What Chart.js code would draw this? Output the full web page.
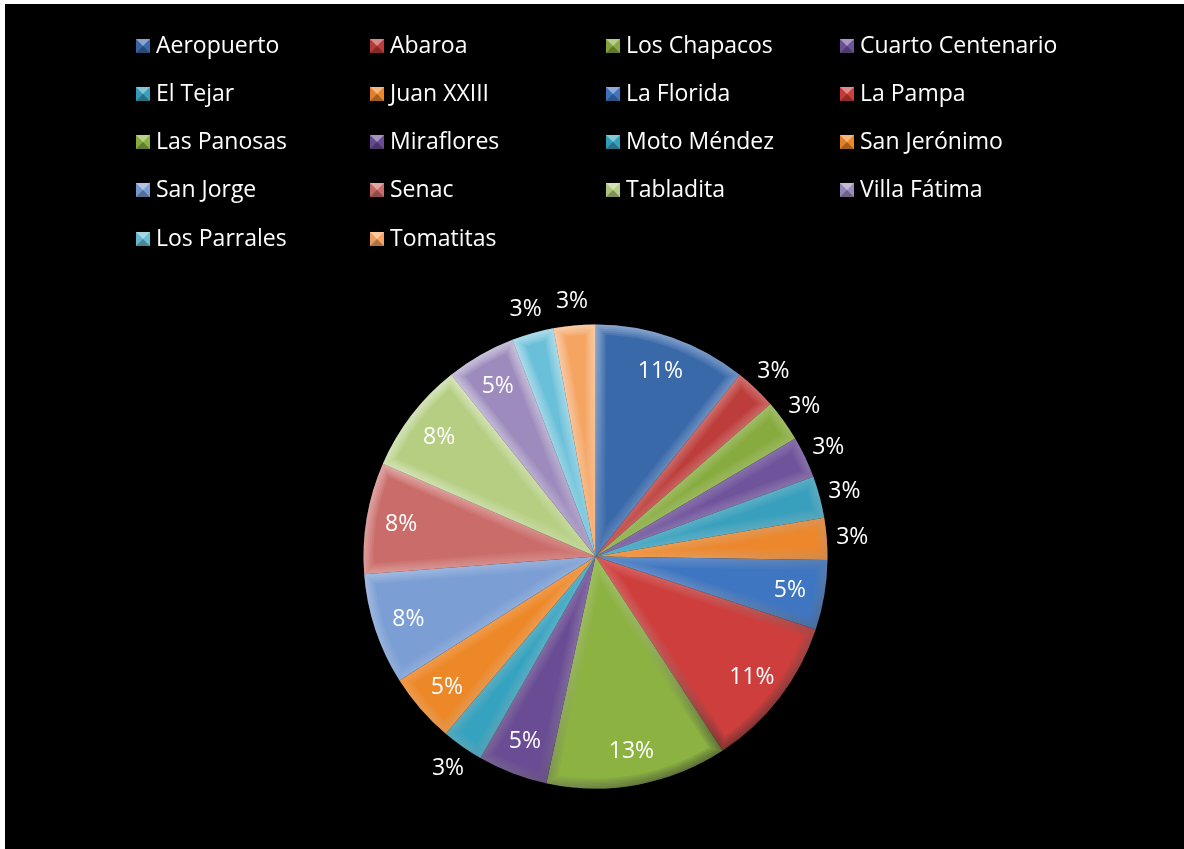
<!DOCTYPE html>
<html lang="es">
<head>
<meta charset="utf-8">
<title>Barrios</title>
<script src="https://cdn.jsdelivr.net/npm/chart.js@4/dist/chart.umd.min.js"></script>
<style>
  html, body { margin: 0; padding: 0; background: #fff; }
  #panel {
    position: absolute; left: 5px; top: 4px; width: 1179px; height: 845px;
    background: #000; overflow: hidden;
  }
  #pie { position: absolute; left: -5px; top: -4px; }
  .item {
    position: absolute; height: 31px; line-height: 31px; white-space: nowrap;
    font-family: "Open Sans", sans-serif; font-size: 23px; color: #fff;
    padding-left: 20px;
  }
  .mark {
    position: absolute; left: 0; top: 10px; width: 0; height: 0;
    border-style: solid; border-width: 7px;
  }
</style>
</head>
<body>
<div id="panel">
  <canvas id="pie" width="1184" height="849"></canvas>
  <div id="legend"></div>
</div>
<script>
// barrios y porcentaje de cada uno
const barrios = ['Aeropuerto', 'Abaroa', 'Los Chapacos', 'Cuarto Centenario',
    'El Tejar', 'Juan XXIII', 'La Florida', 'La Pampa',
    'Las Panosas', 'Miraflores', 'Moto Méndez', 'San Jerónimo',
    'San Jorge', 'Senac', 'Tabladita', 'Villa Fátima',
    'Los Parrales', 'Tomatitas'];
const porcentajes = [11, 3, 3, 3, 3, 3, 5, 11, 13, 5, 3, 5, 8, 8, 8, 5, 3, 3];
const colores = ['#3A69AA', '#BC3D3A', '#88AB40', '#70549B', '#38A0BD', '#EC872C',
    '#3F76C2', '#CE3E3C', '#8CB241', '#6A4C94', '#35A3BF', '#ED8828',
    '#7B9ED4', '#CA6C69', '#B5CE82', '#9C8BBC', '#6BC0D9', '#F5A462'];

function shade(hex, amt) {
    const n = parseInt(hex.slice(1), 16);
    let r = n >> 16, g = (n >> 8) & 255, b = n & 255;
    const t = amt > 0 ? 255 : 0, p = Math.abs(amt);
    r = Math.round(r + (t - r) * p);
    g = Math.round(g + (t - g) * p);
    b = Math.round(b + (t - b) * p);
    return `rgb(${r},${g},${b})`;
}

// leyenda en 4 columnas
const colX = [131, 365, 601, 835];
const rowBase = [49, 97.3, 145.5, 193.8, 242];
const legend = document.getElementById('legend');
barrios.forEach((name, i) => {
    const col = i % 4, row = Math.floor(i / 4);
    const item = document.createElement('div');
    item.className = 'item';
    item.style.left = colX[col] + 'px';
    item.style.top = (rowBase[row] - 24.5) + 'px';
    const mark = document.createElement('span');
    mark.className = 'mark';
    const c = colores[i];
    mark.style.borderColor = `${shade(c, 0.4)} ${shade(c, 0)} ${shade(c, -0.3)} ${shade(c, -0.05)}`;
    item.appendChild(mark);
    item.appendChild(document.createTextNode(name));
    legend.appendChild(item);
});

// relieve suave en los bordes de cada porción (luz desde arriba a la izquierda)
const bevel = {
    id: 'bevel',
    afterDatasetDraw(chart) {
        const ctx = chart.ctx;
        chart.getDatasetMeta(0).data.forEach(arc => {
            const p = arc.getProps(['x', 'y', 'startAngle', 'endAngle', 'outerRadius']);
            const r = p.outerRadius;
            ctx.save();
            ctx.beginPath();
            ctx.moveTo(p.x, p.y);
            ctx.arc(p.x, p.y, r, p.startAngle, p.endAngle);
            ctx.closePath();
            ctx.clip();
            const g = ctx.createLinearGradient(p.x - r * 0.6, p.y - r, p.x + r * 0.6, p.y + r);
            g.addColorStop(0, 'rgba(255,255,255,0.12)');
            g.addColorStop(0.5, 'rgba(255,255,255,0.03)');
            g.addColorStop(1, 'rgba(0,0,0,0.12)');
            ctx.lineJoin = 'miter';
            ctx.strokeStyle = g;
            for (let w = 20; w >= 4; w -= 4) {
                ctx.lineWidth = w;
                ctx.stroke();
            }
            ctx.restore();
        });
    }
};

// etiquetas de porcentaje: dentro, o fuera en las porciones pequeñas
const etiquetas = {
    id: 'etiquetas',
    afterDraw(chart) {
        const ctx = chart.ctx;
        ctx.save();
        ctx.fillStyle = '#fff';
        ctx.font = '23px "Open Sans", sans-serif';
        ctx.textAlign = 'center';
        ctx.textBaseline = 'middle';
        chart.getDatasetMeta(0).data.forEach((arc, i) => {
            const p = arc.getProps(['x', 'y', 'startAngle', 'endAngle', 'outerRadius']);
            const mid = (p.startAngle + p.endAngle) / 2;
            const r = porcentajes[i] <= 3 ? p.outerRadius * 1.11 : p.outerRadius * 0.85;
            ctx.fillText(porcentajes[i] + '%', p.x + Math.cos(mid) * r, p.y + Math.sin(mid) * r + 1);
        });
        ctx.restore();
    }
};

const ctx = document.getElementById('pie').getContext('2d');
new Chart(ctx, {
    type: 'pie',
    data: {
        labels: barrios,
        datasets: [{
            data: porcentajes,
            backgroundColor: colores,
            borderWidth: 0,
            hoverOffset: 0
        }]
    },
    options: {
        responsive: false,
        animation: false,
        layout: { padding: { left: 363.5, right: 356.5, top: 324.5, bottom: 60.5 } },
        plugins: {
            legend: { display: false },
            tooltip: { enabled: false }
        }
    },
    plugins: [bevel, etiquetas]
});
</script>
</body>
</html>
